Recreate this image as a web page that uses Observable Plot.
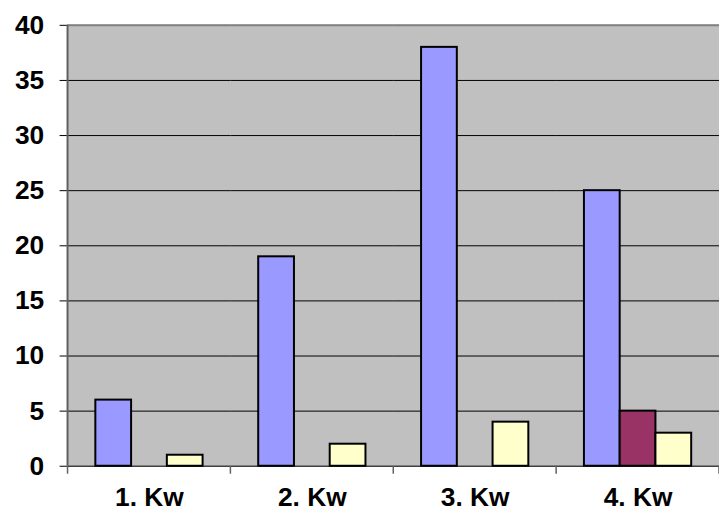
<!DOCTYPE html>
<html><head><meta charset="utf-8">
<script src="https://cdn.jsdelivr.net/npm/d3@7"></script>
<script src="https://cdn.jsdelivr.net/npm/@observablehq/plot@0.6"></script>
<style>html,body{margin:0;padding:0;background:#fff;overflow:hidden}</style>
</head><body><div id="chart"></div>
<script>
const categories = ["1. Kw", "2. Kw", "3. Kw", "4. Kw"];
const seriesNames = ["Serie 1", "Serie 2", "Serie 3"];
const series1 = [6, 19, 38, 25];
const series2 = [0, 0, 0, 5];
const series3 = [1, 2, 4, 3];
const yTicks = [0, 5, 10, 15, 20, 25, 30, 35, 40];
const colors = ["#9999ff", "#993366", "#ffffcc"];

const allSeries = [series1, series2, series3];
const data = [];
categories.forEach((c, i) => {
  allSeries.forEach((s, j) => {
    if (s[i] > 0) data.push({cat: c, series: seriesNames[j], value: s[i]});
  });
});

const chart = Plot.plot({
  width: 724,
  height: 510,
  marginTop: 25,
  marginBottom: 41,
  marginLeft: 68,
  marginRight: 0,
  style: {fontFamily: "'Liberation Sans', Arial, sans-serif", fontWeight: "bold", color: "#000", background: "transparent", overflow: "visible"},
  fx: {domain: categories, padding: 0, label: null, axis: null},
  x: {domain: seriesNames, paddingInner: 0, paddingOuter: 0.75, axis: null},
  y: {domain: [0, 40], label: null, axis: null},
  color: {domain: seriesNames, range: colors},
  marks: [
    Plot.frame({fill: "#c0c0c0", stroke: "#c0c0c0", strokeWidth: 1.5}),
    Plot.gridY(yTicks.filter(t => t > 0 && t < 40), {stroke: "#000", strokeOpacity: 1, strokeWidth: 1}),
    Plot.ruleY([40], {stroke: "#808080", strokeWidth: 2}),
    Plot.ruleY([0], {stroke: "#404040", strokeWidth: 1.5}),
    Plot.barY(data, {fx: "cat", x: "series", y: "value", fill: "series", stroke: "#000", strokeWidth: 2}),
    Plot.axisY(yTicks, {tickSize: 8, tickPadding: 16, fontSize: 26.5, stroke: "#000", label: null}),
    Plot.axisFx({anchor: "bottom", tickSize: 0, tickPadding: 21, fontSize: 26.5, label: null})
  ]
});

document.getElementById("chart").appendChild(chart);

// boundary tick marks and left axis line, positioned from the chart's own scales
const fxs = chart.scale("fx");
const ys = chart.scale("y");
const fx = d3.scaleBand().domain(fxs.domain).range(fxs.range)
  .paddingInner(fxs.paddingInner ?? 0).paddingOuter(fxs.paddingOuter ?? 0).align(fxs.align ?? 0.5);
const y = d3.scaleLinear().domain(ys.domain).range(ys.range);
const svg = d3.select(chart.tagName.toLowerCase() === "svg" ? chart : chart.querySelector("svg"));
const edges = categories.map(c => fx(c)).concat([fx(categories[categories.length - 1]) + fx.bandwidth()]);
svg.append("g").selectAll("line").data(edges).join("line")
  .attr("x1", d => d).attr("x2", d => d)
  .attr("y1", y(0)).attr("y2", y(0) + 8)
  .attr("stroke", "#606060").attr("stroke-width", 1.5);
svg.append("line")
  .attr("x1", edges[0]).attr("x2", edges[0])
  .attr("y1", y(40)).attr("y2", y(0))
  .attr("stroke", "#606060").attr("stroke-width", 2);
</script>
</body></html>
